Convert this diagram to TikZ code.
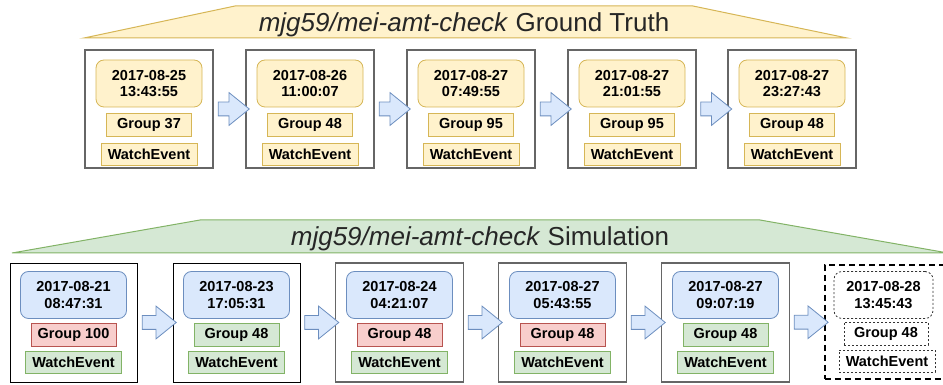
\documentclass[tikz,border=0pt]{standalone}
\usepackage{fontspec}
\setmainfont{Liberation Sans}
\usetikzlibrary{shapes.arrows,calc}

\definecolor{gtfill}{HTML}{FFF2CC}
\definecolor{gtline}{HTML}{D6B656}
\definecolor{simfill}{HTML}{D5E8D4}
\definecolor{simline}{HTML}{82B366}
\definecolor{timefill}{HTML}{DAE8FC}
\definecolor{timeline}{HTML}{6C8EBF}
\definecolor{missfill}{HTML}{F8CECC}
\definecolor{missline}{HTML}{B85450}
\definecolor{framegray}{HTML}{666666}

\begin{document}
\begin{tikzpicture}[x=1pt,y=1pt,
  every node/.style={font=\bfseries\fontsize{14.5}{16.5}\selectfont,align=center,inner sep=0pt},
  frame/.style={draw=framegray,line width=1.6pt,minimum width=128pt,minimum height=118pt},
  blackframe/.style={draw=black,line width=0.8pt,minimum width=127pt,minimum height=119pt},
  nextframe/.style={draw=black,line width=2pt,dash pattern=on 6pt off 4pt,minimum width=128pt,minimum height=114pt},
  datebox/.style={rounded corners=8pt,line width=0.8pt,minimum width=106pt,minimum height=47pt},
  grpbox/.style={line width=0.8pt,minimum width=85pt,minimum height=23pt},
  evtbox/.style={line width=0.8pt,minimum width=96pt,minimum height=22pt},
  gtcell/.style={fill=gtfill,draw=gtline},
  timecell/.style={fill=timefill,draw=timeline},
  hitcell/.style={fill=simfill,draw=simline},
  misscell/.style={fill=missfill,draw=missline},
  nextcell/.style={fill=white,draw=black!80,dash pattern=on 2pt off 2pt},
  stepper/.style={single arrow,fill=timefill,draw=timeline,line width=0.8pt,
    inner xsep=0pt,inner ysep=6.5pt,single arrow head extend=9.5pt,single arrow tip angle=78}]
\useasboundingbox (0,0) rectangle (943,385);

% ground truth
\filldraw[fill=gtfill,draw=gtline,line width=1pt] (84,347) -- (235,379) -- (693,379) -- (847,347) -- cycle;
\node[anchor=base,font=\fontsize{26}{30}\selectfont,text=black!85] (gttitle) at (464,353.3)
  {\textit{mjg59/mei-amt-check} Ground Truth};

\node[frame] (gt1) at (149,276) {};
\node[datebox,gtcell] (gt1date) at (149,301.5) {2017-08-25\\13:43:55};
\node[grpbox,gtcell] (gt1grp) at (149,260.5) {Group 37};
\node[evtbox,gtcell] (gt1evt) at (149,231) {WatchEvent};

\node[frame] (gt2) at (310,276) {};
\node[datebox,gtcell] (gt2date) at (310,301.5) {2017-08-26\\11:00:07};
\node[grpbox,gtcell] (gt2grp) at (310,260.5) {Group 48};
\node[evtbox,gtcell] (gt2evt) at (310,231) {WatchEvent};

\node[frame] (gt3) at (471,276) {};
\node[datebox,gtcell] (gt3date) at (471,301.5) {2017-08-27\\07:49:55};
\node[grpbox,gtcell] (gt3grp) at (471,260.5) {Group 95};
\node[evtbox,gtcell] (gt3evt) at (471,231) {WatchEvent};

\node[frame] (gt4) at (632,276) {};
\node[datebox,gtcell] (gt4date) at (632,301.5) {2017-08-27\\21:01:55};
\node[grpbox,gtcell] (gt4grp) at (632,260.5) {Group 95};
\node[evtbox,gtcell] (gt4evt) at (632,231) {WatchEvent};

\node[frame] (gt5) at (792,276) {};
\node[datebox,gtcell] (gt5date) at (792,301.5) {2017-08-27\\23:27:43};
\node[grpbox,gtcell] (gt5grp) at (792,260.5) {Group 48};
\node[evtbox,gtcell] (gt5evt) at (792,231) {WatchEvent};

\node[stepper,minimum height=31pt] at ($(gt1.east)!.5!(gt2.west)$) {};
\node[stepper,minimum height=31pt] at ($(gt2.east)!.5!(gt3.west)$) {};
\node[stepper,minimum height=31pt] at ($(gt3.east)!.5!(gt4.west)$) {};
\node[stepper,minimum height=31pt] at ($(gt4.east)!.5!(gt5.west)$) {};

% simulation
\filldraw[fill=simfill,draw=simline,line width=1pt] (12,132) -- (200,165) -- (760,165) -- (948,132) -- cycle;
\node[anchor=base,font=\fontsize{26}{30}\selectfont,text=black!85] (simtitle) at (480,139)
  {\textit{mjg59/mei-amt-check} Simulation};

\node[blackframe] (sim1) at (73.5,62.5) {};
\node[datebox,timecell] (sim1date) at (73.5,90) {2017-08-21\\08:47:31};
\node[grpbox,misscell] (sim1grp) at (73.5,50) {Group 100};
\node[evtbox,hitcell] (sim1evt) at (73.5,22.5) {WatchEvent};

\node[blackframe] (sim2) at (236.5,62.5) {};
\node[datebox,timecell] (sim2date) at (236.5,90) {2017-08-23\\17:05:31};
\node[grpbox,hitcell] (sim2grp) at (236.5,50) {Group 48};
\node[evtbox,hitcell] (sim2evt) at (236.5,22.5) {WatchEvent};

\node[frame,minimum height=119pt] (sim3) at (399.5,62.5) {};
\node[datebox,timecell] (sim3date) at (399.5,90) {2017-08-24\\04:21:07};
\node[grpbox,misscell] (sim3grp) at (399.5,50) {Group 48};
\node[evtbox,hitcell] (sim3evt) at (399.5,22.5) {WatchEvent};

\node[frame,minimum height=119pt] (sim4) at (562.5,62.5) {};
\node[datebox,timecell] (sim4date) at (562.5,90) {2017-08-27\\05:43:55};
\node[grpbox,misscell] (sim4grp) at (562.5,50) {Group 48};
\node[evtbox,hitcell] (sim4evt) at (562.5,22.5) {WatchEvent};

\node[frame,minimum height=119pt] (sim5) at (725.5,62.5) {};
\node[datebox,timecell] (sim5date) at (725.5,90) {2017-08-27\\09:07:19};
\node[grpbox,hitcell] (sim5grp) at (725.5,50) {Group 48};
\node[evtbox,hitcell] (sim5evt) at (725.5,22.5) {WatchEvent};

\node[nextframe] (sim6) at (888.5,63) {};
\node[datebox,nextcell,minimum width=99pt] (sim6date) at (883.5,90) {2017-08-28\\13:45:43};
\node[grpbox,nextcell,minimum width=84pt] (sim6grp) at (886,51) {Group 48};
\node[evtbox,nextcell] (sim6evt) at (887,23.5) {WatchEvent};

\node[stepper,minimum height=34pt] at ($(sim1.east)!.5!(sim2.west)$) {};
\node[stepper,minimum height=34pt] at ($(sim2.east)!.5!(sim3.west)$) {};
\node[stepper,minimum height=34pt] at ($(sim3.east)!.5!(sim4.west)$) {};
\node[stepper,minimum height=34pt] at ($(sim4.east)!.5!(sim5.west)$) {};
\node[stepper,minimum height=34pt] at ($(sim5.east)!.5!(sim6.west)$) {};
\end{tikzpicture}
\end{document}
